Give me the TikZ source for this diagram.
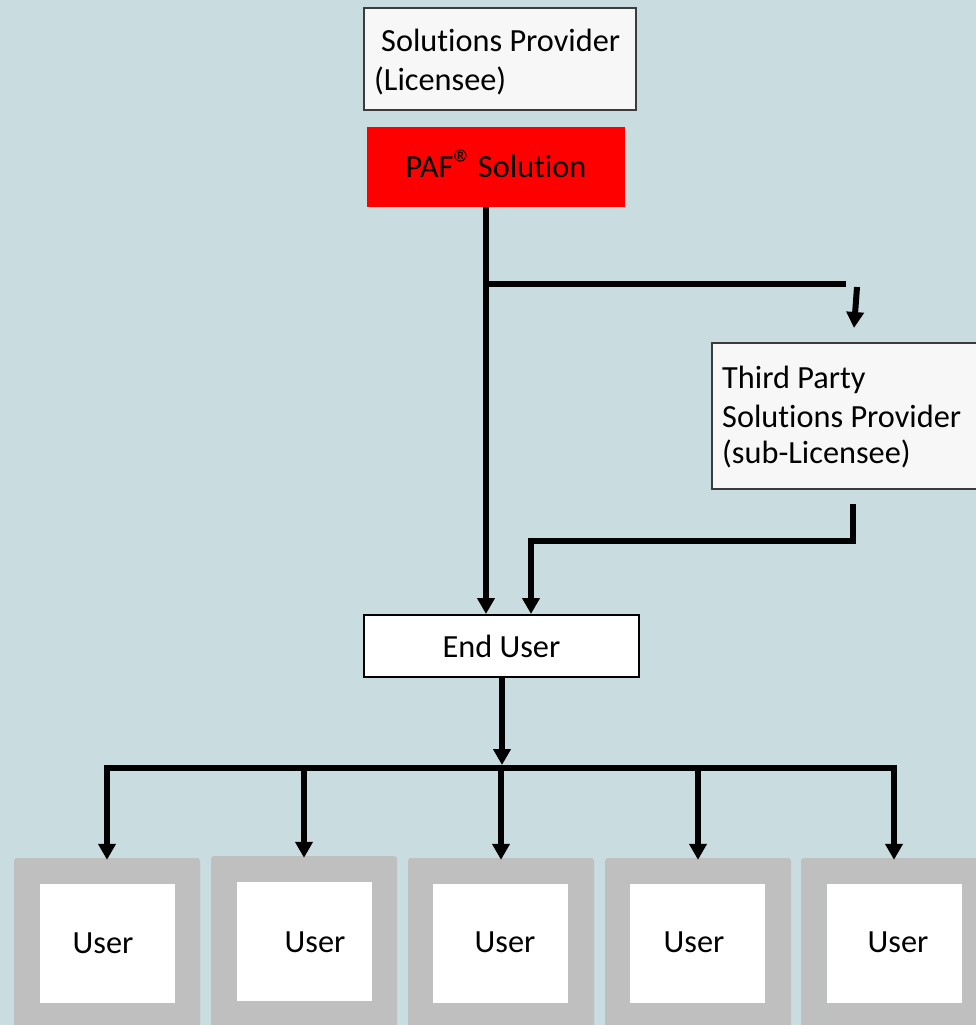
\documentclass[tikz,border=0pt]{standalone}
\usepackage{fontspec}
\setmainfont{Carlito}[Ligatures=NoCommon]
\usetikzlibrary{arrows.meta}
\definecolor{bgcol}{RGB}{201,220,224}
\definecolor{boxborder}{RGB}{60,60,60}
\definecolor{boxfill}{RGB}{247,247,247}
\definecolor{pafred}{RGB}{255,0,0}
\definecolor{usergray}{RGB}{191,191,191}
\newcommand{\regmark}{{\fontsize{40}{40}\selectfont\textregistered}\kern-3pt}
\begin{document}
\begin{tikzpicture}[x=1pt,y=-1pt,
  every node/.style={font=\fontsize{32.3}{38}\selectfont, text=black},
  conn/.style={line width=6pt, line join=miter, draw=black},
  arr/.style={conn, -{Triangle[width=17pt,length=16pt]}},
  lightbox/.style={draw=boxborder, line width=1.5pt, fill=boxfill, inner sep=0pt},
  redbox/.style={fill=pafred, inner sep=0pt},
  whitebox/.style={draw=black, line width=2pt, fill=white, inner sep=0pt},
  outerbox/.style={fill=usergray, rounded corners=3pt, inner sep=0pt, minimum width=186pt, minimum height=182pt},
  innerbox/.style={fill=white, inner sep=0pt, minimum width=135pt, minimum height=119pt},
  lbl/.style={inner sep=0pt, anchor=base west},
  ctext/.style={inner sep=0pt}]
\useasboundingbox (0,0) rectangle (976,1025);
\clip (0,0) rectangle (976,1025);
\fill[bgcol] (0,0) rectangle (976,1025);

% top boxes
\node[lightbox, minimum width=272pt, minimum height=102pt] (sp) at (500,59) {};
\node[lbl] (spt1) at (381,52) {Solutions Provider};
\node[lbl] (spt2) at (374,90) {(Licensee)};

\node[redbox, minimum width=258pt, minimum height=80pt, text height=21pt, text depth=0pt] (paf) at (496,167) {PAF\regmark{} Solution};

% third party
\node[lightbox, minimum width=278pt, minimum height=146pt] (third) at (851,416) {};
\node[lbl] (tp1) at (722,388) {Third Party};
\node[lbl] (tp2) at (722,427) {Solutions Provider};
\node[lbl] (tp3) at (722,463) {(sub-Licensee)};

% end user
\node[whitebox, minimum width=275pt, minimum height=62pt] (enduser) at (501.5,646) {End User};

% user boxes
\node[outerbox] (o1) at (107,949) {};
\node[outerbox] (o2) at (304,947) {};
\node[outerbox] (o3) at (501,949) {};
\node[outerbox] (o4) at (698,949) {};
\node[outerbox] (o5) at (894,949) {};
\node[innerbox] (i1) at (107.5,943.5) {};
\node[innerbox] (i2) at (304,941.5) {};
\node[innerbox] (i3) at (500.5,943.5) {};
\node[innerbox] (i4) at (697.5,943.5) {};
\node[innerbox] (i5) at (894.5,943.5) {};
\node[ctext] (t1) at (103,943) {User};
\node[ctext] (t2) at (315,942) {User};
\node[ctext] (t3) at (505,942) {User};
\node[ctext] (t4) at (694,942) {User};
\node[ctext] (t5) at (898,942) {User};

% connectors
\coordinate (j1) at (486,284);
\coordinate (j2) at (846,284);
\coordinate (a1) at (857,287);
\coordinate (a2) at (854,328);
\draw[arr] (paf.south -| j1) -- (enduser.north -| j1);
\draw[conn] (j1) -- (j2);
\draw[arr] (a1) -- (a2);

\coordinate (s1) at (853,504);
\coordinate (s2) at (853,541);
\coordinate (s3) at (531,541);
\draw[arr] (s1) -- (s2) -- (s3) -- (enduser.north -| s3);

\coordinate (e1) at (502,765);
\draw[arr] (enduser.south -| e1) -- (e1);

\coordinate (busL) at (104,768);
\coordinate (busR) at (897,768);
\draw[conn] (busL) -- (busR);
\foreach \k in {1,...,5}{
  \draw[arr] ([yshift=3pt]o\k.north |- busL) -- ([yshift=-2pt]o\k.north);
}
\end{tikzpicture}
\end{document}
